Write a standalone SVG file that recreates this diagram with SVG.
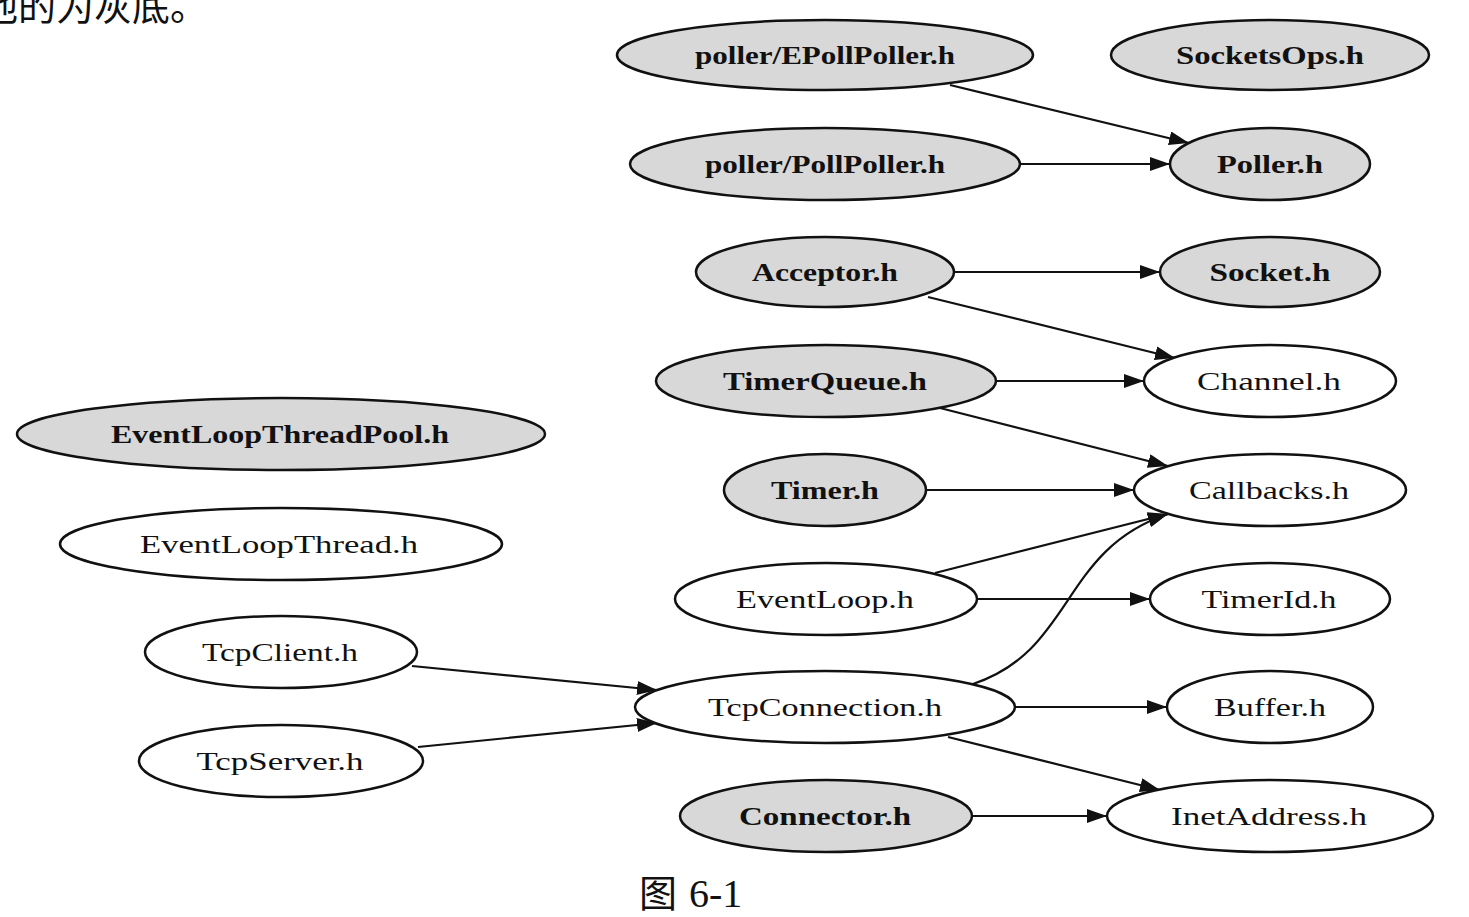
<svg xmlns="http://www.w3.org/2000/svg" width="1469" height="917" viewBox="0 0 1469 917">
<style>
.n ellipse{stroke:#111;stroke-width:2.5}
.g ellipse{fill:#d8d8d8}
.w ellipse{fill:#fff}
.n text{font-family:"Liberation Serif","DejaVu Serif",serif;font-size:26px;fill:#111;text-anchor:middle}
.g text{font-weight:bold}
.cap{font-family:"Liberation Serif","Noto Sans CJK SC",serif;font-size:38px;fill:#111}
#edges path,#edges line{stroke:#111;stroke-width:2.2;fill:none;marker-end:url(#ah)}
</style>
<defs>
<marker id="ah" markerUnits="userSpaceOnUse" markerWidth="22" markerHeight="16" refX="20" refY="7" orient="auto">
<path d="M0,0 L20,7 L0,14 z" fill="#111"/>
</marker>
</defs>
<rect width="1469" height="917" fill="#fff"/>
<text class="cap" x="-20" y="20" font-size="40" font-family="Noto Sans CJK SC, serif">他的为灰底。</text>
<text class="cap" x="639" y="907">图<tspan dx="12" font-size="40">6-1</tspan></text>

<g id="edges">
<line x1="950" y1="85" x2="1189" y2="143"/>
<line x1="1020" y1="164" x2="1170" y2="164"/>
<line x1="955" y1="272" x2="1160" y2="272"/>
<line x1="928" y1="297" x2="1175" y2="358"/>
<line x1="996" y1="381" x2="1144" y2="381"/>
<line x1="940" y1="408" x2="1168" y2="466"/>
<line x1="927" y1="490" x2="1134" y2="490"/>
<line x1="935" y1="573" x2="1168" y2="514"/>
<path d="M973,684 C1075,650 1060,550 1168,514"/>
<line x1="977" y1="599" x2="1150" y2="599"/>
<line x1="412" y1="666" x2="657" y2="690"/>
<line x1="418" y1="747" x2="657" y2="723"/>
<line x1="1016" y1="707" x2="1167" y2="707"/>
<line x1="948" y1="737" x2="1160" y2="790"/>
<line x1="972" y1="816" x2="1107" y2="816"/>
</g>

<g id="n-epoll" class="n g"><ellipse cx="825" cy="55" rx="208" ry="35"/><text x="825" y="64" textLength="260" lengthAdjust="spacingAndGlyphs">poller/EPollPoller.h</text></g>
<g id="n-socketsops" class="n g"><ellipse cx="1270" cy="55" rx="159" ry="35"/><text x="1270" y="64" textLength="188" lengthAdjust="spacingAndGlyphs">SocketsOps.h</text></g>
<g id="n-pollpoller" class="n g"><ellipse cx="825" cy="164" rx="195" ry="36"/><text x="825" y="173" textLength="240" lengthAdjust="spacingAndGlyphs">poller/PollPoller.h</text></g>
<g id="n-poller" class="n g"><ellipse cx="1270" cy="164" rx="100" ry="36"/><text x="1270" y="173" textLength="106" lengthAdjust="spacingAndGlyphs">Poller.h</text></g>
<g id="n-acceptor" class="n g"><ellipse cx="825" cy="272" rx="129" ry="35"/><text x="825" y="281" textLength="146" lengthAdjust="spacingAndGlyphs">Acceptor.h</text></g>
<g id="n-socket" class="n g"><ellipse cx="1270" cy="272" rx="110" ry="35"/><text x="1270" y="281" textLength="121" lengthAdjust="spacingAndGlyphs">Socket.h</text></g>
<g id="n-timerqueue" class="n g"><ellipse cx="826" cy="381" rx="170" ry="36"/><text x="825" y="390" textLength="204" lengthAdjust="spacingAndGlyphs">TimerQueue.h</text></g>
<g id="n-channel" class="n w"><ellipse cx="1270" cy="381" rx="126" ry="36"/><text x="1269" y="390" textLength="144" lengthAdjust="spacingAndGlyphs">Channel.h</text></g>
<g id="n-eltpool" class="n g"><ellipse cx="281" cy="434" rx="264" ry="36"/><text x="280" y="443" textLength="338" lengthAdjust="spacingAndGlyphs">EventLoopThreadPool.h</text></g>
<g id="n-timer" class="n g"><ellipse cx="825" cy="490" rx="101" ry="36"/><text x="825" y="499" textLength="108" lengthAdjust="spacingAndGlyphs">Timer.h</text></g>
<g id="n-callbacks" class="n w"><ellipse cx="1270" cy="490" rx="136" ry="36"/><text x="1269" y="499" textLength="160" lengthAdjust="spacingAndGlyphs">Callbacks.h</text></g>
<g id="n-elthread" class="n w"><ellipse cx="281" cy="544" rx="221" ry="36"/><text x="279" y="553" textLength="278" lengthAdjust="spacingAndGlyphs">EventLoopThread.h</text></g>
<g id="n-eventloop" class="n w"><ellipse cx="826" cy="599" rx="151" ry="36"/><text x="825" y="608" textLength="178" lengthAdjust="spacingAndGlyphs">EventLoop.h</text></g>
<g id="n-timerid" class="n w"><ellipse cx="1270" cy="599" rx="120" ry="36"/><text x="1269" y="608" textLength="135" lengthAdjust="spacingAndGlyphs">TimerId.h</text></g>
<g id="n-tcpclient" class="n w"><ellipse cx="281" cy="652" rx="136" ry="36"/><text x="280" y="661" textLength="156" lengthAdjust="spacingAndGlyphs">TcpClient.h</text></g>
<g id="n-tcpconn" class="n w"><ellipse cx="825" cy="707" rx="190" ry="36"/><text x="825" y="716" textLength="234" lengthAdjust="spacingAndGlyphs">TcpConnection.h</text></g>
<g id="n-buffer" class="n w"><ellipse cx="1270" cy="707" rx="103" ry="36"/><text x="1270" y="716" textLength="112" lengthAdjust="spacingAndGlyphs">Buffer.h</text></g>
<g id="n-tcpserver" class="n w"><ellipse cx="281" cy="761" rx="142" ry="36"/><text x="280" y="770" textLength="167" lengthAdjust="spacingAndGlyphs">TcpServer.h</text></g>
<g id="n-connector" class="n g"><ellipse cx="826" cy="816" rx="146" ry="36"/><text x="825" y="825" textLength="172" lengthAdjust="spacingAndGlyphs">Connector.h</text></g>
<g id="n-inetaddr" class="n w"><ellipse cx="1270" cy="816" rx="163" ry="36"/><text x="1269" y="825" textLength="196" lengthAdjust="spacingAndGlyphs">InetAddress.h</text></g>
</svg>
